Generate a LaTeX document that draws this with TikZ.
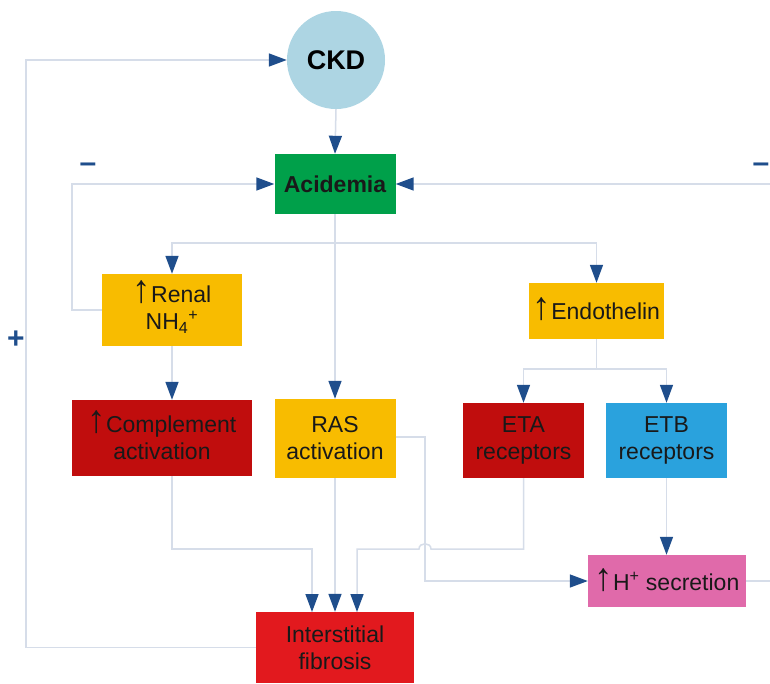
\documentclass[tikz,border=0pt]{standalone}
\usepackage{fontspec}
\setmainfont{Liberation Sans}
\usetikzlibrary{arrows.meta}
\definecolor{linec}{HTML}{D6DDE9}
\definecolor{arrc}{HTML}{1F4E8C}
\definecolor{ckdc}{HTML}{ADD5E3}
\definecolor{greenc}{HTML}{00A04A}
\definecolor{yellc}{HTML}{F8BC00}
\definecolor{dredc}{HTML}{C00D0D}
\definecolor{bluec}{HTML}{2AA2DD}
\definecolor{pinkc}{HTML}{E06AAA}
\definecolor{redc}{HTML}{E2191E}
\newcommand\uparr{\smash{\scalebox{1.6}[1.7]{↑}}}
\begin{document}
\begin{tikzpicture}[x=1pt,y=-1pt,
  box/.style={rectangle, inner sep=0pt, align=center, text=black!90,
    font=\fontsize{23}{27}\selectfont},
  conn/.style={draw=linec, line width=1.5pt},
  arr/.style={conn, -{Triangle[length=18pt,width=13pt,color=arrc]}},
  sign/.style={text=arrc, inner sep=0pt, font=\bfseries\fontsize{30}{30}\selectfont}]
\useasboundingbox (0,0) rectangle (770,683);
\fill[white] (0,0) rectangle (770,683);

% nodes
\node[circle, fill=ckdc, minimum size=98pt, inner sep=0pt,
  font=\bfseries\fontsize{27}{30}\selectfont] (ckd) at (336,60) {CKD};
\node[box, fill=greenc, minimum width=121pt, minimum height=60pt,
  font=\bfseries\fontsize{23}{27}\selectfont] (acid) at (335,184) {Acidemia};
\node[box, fill=yellc, minimum width=140pt, minimum height=72pt] (renal) at (172,310)
  {\uparr Renal\\NH\textsubscript{4}\textsuperscript{+}};
\node[box, fill=yellc, minimum width=135pt, minimum height=56pt] (endo) at (596.5,311)
  {\uparr Endothelin};
\node[box, fill=dredc, minimum width=180pt, minimum height=76pt] (comp) at (162,438)
  {\uparr Complement\\activation};
\node[box, fill=yellc, minimum width=121pt, minimum height=79pt] (ras) at (335,438.5)
  {RAS\\activation};
\node[box, fill=dredc, minimum width=121pt, minimum height=75pt] (eta) at (523.5,440.5)
  {ETA\\receptors};
\node[box, fill=bluec, minimum width=121pt, minimum height=75pt] (etb) at (666.5,440.5)
  {ETB\\receptors};
\node[box, fill=pinkc, minimum width=158pt, minimum height=52pt] (hsec) at (667,581)
  {\uparr H\textsuperscript{+} secretion};
\node[box, fill=redc, minimum width=158pt, minimum height=71pt] (fib) at (335,647.5)
  {Interstitial\\fibrosis};

% signs
\node[sign] (minusL) at (88,168) {–};
\node[sign] (minusR) at (761,168) {–};
\node[sign] (plus) at (16,340) {+};

% coordinates
\coordinate (b1) at (335,243);
\coordinate (b2) at (596.5,369);
\coordinate (redge1) at (770,184);
\coordinate (redge2) at (770,581);

% connectors
\draw[arr] (ckd.south) -- (acid.north);
\draw[arr] (fib.west) -| (26,60) -- (ckd.west);
\draw[arr] (renal.west) -| (72,184) -- (acid.west);
\draw[arr] (redge1) -- (acid.east);
\draw[conn] (hsec.east) -- (redge2);
\draw[arr] (acid.south) -- (ras.north);
\draw[arr] (b1) -| (renal.north);
\draw[arr] (b1) -| (endo.north);
\draw[arr] (renal.south) -- (renal.south |- comp.north);
\draw[conn] (endo.south) -- (b2);
\draw[arr] (b2) -| (eta.north);
\draw[arr] (b2) -| (etb.north);
\draw[arr] (etb.south) -- (etb.south |- hsec.north);
\draw[arr] (ras.east |- 0,437) -- (425,437) -- (425,581) -- (hsec.west);
\draw[arr] (172,476) -- (172,549) -- (312,549) -- (312,612);
\draw[arr] (ras.south) -- (fib.north);
\draw[arr] (eta.south) -- (523.5,549) -- (431,549)
  .. controls (431,542) and (419,542) .. (419,549) -- (357,549) -- (357,612);
\end{tikzpicture}
\end{document}
